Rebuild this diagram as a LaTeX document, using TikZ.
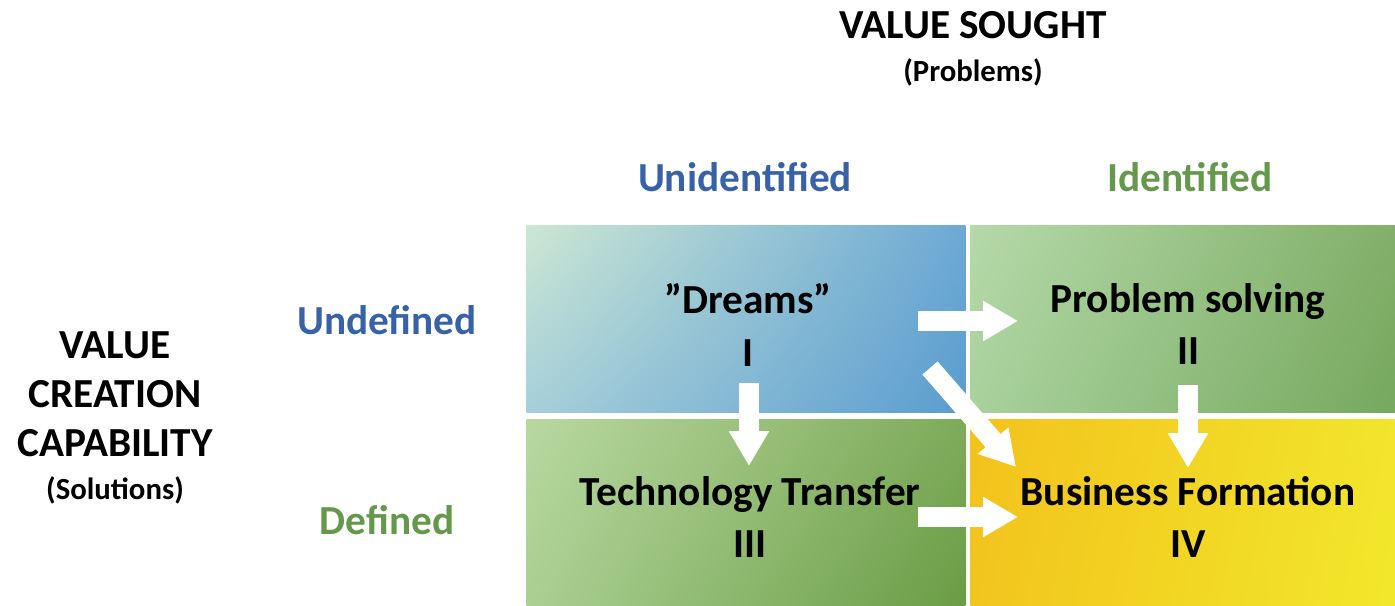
\documentclass[tikz,border=0pt]{standalone}
\usepackage{fontspec}
\setmainfont{Carlito}
\usetikzlibrary{arrows.meta,shadings}
\definecolor{colblue}{HTML}{3862A8}
\definecolor{colgreen}{HTML}{64984A}
\definecolor{qaul}{HTML}{CCE7D3}\definecolor{qaur}{HTML}{6CA9D4}\definecolor{qall}{HTML}{A6CFD9}\definecolor{qalr}{HTML}{5A9CCF}
\definecolor{qbul}{HTML}{B5D9A9}\definecolor{qbur}{HTML}{82B06A}\definecolor{qbll}{HTML}{A8D19C}\definecolor{qblr}{HTML}{76A85E}
\definecolor{qcul}{HTML}{B8D8A0}\definecolor{qcur}{HTML}{7EAB5A}\definecolor{qcll}{HTML}{A9CF92}\definecolor{qclr}{HTML}{6A9C44}
\definecolor{qdul}{HTML}{F3C21C}\definecolor{qdur}{HTML}{F2E52C}\definecolor{qdll}{HTML}{F2C51E}\definecolor{qdlr}{HTML}{F2E82A}

\begin{document}
\begin{tikzpicture}[x=0.02cm, y=-0.02cm,
	big/.style={font=\fontsize{23.5}{28}\selectfont\bfseries},
	small/.style={font=\fontsize{17.5}{21}\selectfont\bfseries},
	quad/.style={anchor=north west, inner sep=0pt},
	qtext/.style={align=center, inner sep=0pt, font=\fontsize{23.5}{30}\selectfont\bfseries},
	flow/.style={white, line width=0.4cm, -{Triangle[width=0.76cm,length=0.7cm]}}]
	\useasboundingbox (0, 0) rectangle (1395, 605);

	\node (vs) [big] at (973, 25) {VALUE SOUGHT};
	\node (prob) [small] at (973, 72) {(Problems)};
	\node (unid) [big, colblue] at (745, 177) {Unidentified};
	\node (ident) [big, colgreen] at (1190, 177) {Identified};
	\node (undef) [big, colblue] at (387, 320) {Undefined};
	\node (def) [big, colgreen] at (387, 520) {Defined};
	\node (vcc) [big, align=center] at (115, 394) {VALUE\\CREATION\\CAPABILITY};
	\node (sol) [small] at (115, 490) {(Solutions)};

	\node (q1) [quad, minimum width=8.78cm, minimum height=3.74cm,
		upper left=qaul, upper right=qaur, lower left=qall, lower right=qalr] at (526, 225) {};
	\node (q2) [quad, minimum width=8.5cm, minimum height=3.74cm,
		upper left=qbul, upper right=qbur, lower left=qbll, lower right=qblr] at (970, 225) {};
	\node (q3) [quad, minimum width=8.78cm, minimum height=3.72cm,
		upper left=qcul, upper right=qcur, lower left=qcll, lower right=qclr] at (526, 419) {};
	\node (q4) [quad, minimum width=8.5cm, minimum height=3.72cm,
		upper left=qdul, upper right=qdur, lower left=qdll, lower right=qdlr] at (970, 419) {};

	\node (t1) [qtext] at (748, 325) {”Dreams”\\I};
	\node (t2) [qtext] at (1188, 324) {Problem solving\\II};
	\node (t3) [qtext] at (750, 517) {Technology Transfer\\III};
	\node (t4) [qtext] at (1188, 517) {Business Formation\\IV};

	\coordinate (a1) at (749, 383); \coordinate (b1) at (749, 466);
	\coordinate (a2) at (918, 321); \coordinate (b2) at (1018, 321);
	\coordinate (a3) at (918, 517); \coordinate (b3) at (1018, 517);
	\coordinate (a4) at (1188, 385); \coordinate (b4) at (1188, 468);
	\coordinate (a5) at (930, 368); \coordinate (b5) at (1016, 467);

	\draw[flow] (a1) -- (b1);
	\draw[flow] (a2) -- (b2);
	\draw[flow] (a3) -- (b3);
	\draw[flow] (a4) -- (b4);
	\draw[flow] (a5) -- (b5);
\end{tikzpicture}
\end{document}
